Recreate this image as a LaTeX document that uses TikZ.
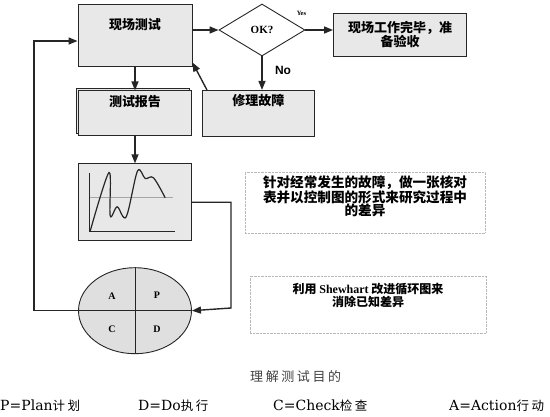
\documentclass[tikz,border=0pt]{standalone}
\usepackage{fontspec}
\setmainfont{Liberation Serif}
\newfontfamily\cjk{Noto Sans CJK SC}
\newfontfamily\cjkwide{Noto Sans CJK SC}[LetterSpace=20]
\newfontfamily\labelsans{Liberation Sans}
\newfontfamily\legendserif{DejaVu Serif}
\usepackage{tikz}
\usetikzlibrary{shapes.geometric, arrows.meta, positioning, shadows}

\newcommand{\hanzi}[1]{{\cjkwide\fontsize{12.5}{16}\selectfont #1}}

\begin{document}
\begin{tikzpicture}[
    x=1pt, y=-1pt,
    node distance=25pt,
    box/.style={draw=black!85, line width=0.9pt, rectangle, fill=gray!18, inner sep=0pt, align=center, font=\cjk\bfseries\fontsize{13}{14}\selectfont},
    note/.style={draw=gray!55, densely dotted, rectangle, inner sep=0pt, align=center, font=\cjk\bfseries\fontsize{13.6}{13.5}\selectfont},
    legend/.style={anchor=west, inner sep=0pt, font=\legendserif\fontsize{14}{16}\selectfont},
    letter/.style={inner sep=0pt, font=\bfseries\fontsize{10}{12}\selectfont},
    arrow/.style={line width=1.4pt, draw=black!85, -{Triangle[length=9pt,width=7pt]}}
]
\useasboundingbox (0,0) rectangle (550,417);

% top row
\node (test) [box, minimum width=114pt, text height=26pt, text depth=36pt] at (135,35) {现场测试};
\node (ok) [diamond, draw=black!85, line width=0.9pt, inner sep=0pt, minimum width=86pt, minimum height=52pt, font=\bfseries\fontsize{11}{13}\selectfont] at (262,30) {OK?};
\node (done) [box, minimum width=133pt, minimum height=43pt] at (400,34.5) {现场工作完毕，准\\备验收};
\node (yes) [inner sep=0pt, font=\bfseries\fontsize{6.5}{8}\selectfont] at ([shift={(-4,-17)}]ok.east) {Yes};
\node (no) [inner sep=0pt, font=\labelsans\bfseries\fontsize{12}{14}\selectfont] at ([shift={(21,14)}]ok.south) {No};

% left column
\node (report) [box, minimum width=113pt, text height=16pt, text depth=29pt, below=24pt of test,
    copy shadow={shadow xshift=-2.5pt, shadow yshift=2.5pt}] {测试报告};
\node (fix) [box, minimum width=112pt, text height=15pt, text depth=31pt, right=10pt of report] {修理故障};
\node (chart) [box, minimum width=113pt, minimum height=77pt, below=27pt of report] {};
\node (pdca) [ellipse, draw=black!85, line width=0.9pt, fill=gray!25, inner sep=0pt, minimum width=113pt, minimum height=86pt, below=26pt of chart] {};

% control chart
\begin{scope}[shift={(chart.center)}, line width=1.2pt, black!85]
  \draw (-45.5,-28.8) -- (-45.5,29.5) -- (40,29.5);
  \draw[gray!70, line width=0.8pt] (-45.5,-4.5) -- (38,-4.5);
  \draw plot[smooth, tension=0.55] coordinates {(-45,29.5) (-26,-29.8) (-24.8,13.5) (-17.8,4.5) (-8.8,14.5) (2.5,-31.2) (10.2,-23.8) (18.5,-24.5) (30.2,-4.5)};
\end{scope}

% PDCA wheel
\draw[line width=0.9pt, black!85] (pdca.north) -- (pdca.south);
\draw[line width=0.9pt, black!85] (pdca.west) -- (pdca.east);
\node (lblA) [letter] at ([shift={(-23,-15)}]pdca.center) {A};
\node (lblP) [letter] at ([shift={(22,-15)}]pdca.center) {P};
\node (lblC) [letter] at ([shift={(-23,19)}]pdca.center) {C};
\node (lblD) [letter] at ([shift={(22,19)}]pdca.center) {D};

% notes
\node (note1) [note, minimum width=240pt, minimum height=61pt] at (365,202.5)
    {针对经常发生的故障，做一张核对\\表并以控制图的形式来研究过程中\\的差异\\ \mbox{}};
\node (note2) [note, minimum width=236pt, minimum height=57pt, font=\cjk\bfseries\fontsize{12}{13}\selectfont] at (368,304.5)
    {利用 {\rmfamily Shewhart} 改进循环图来\\消除已知差异\\[7pt] \mbox{}};

% caption and legend
\node (caption) [anchor=west, inner sep=0pt, text=black!75, font=\cjkwide\fontsize{13}{15}\selectfont] at (250,377) {理解测试目的};
\node (legP) [legend] at (0,406) {P=Plan\hanzi{计划}};
\node (legD) [legend] at (138,406) {D=Do\hanzi{执行}};
\node (legC) [legend] at (273,406) {C=Check\hanzi{检查}};
\node (legA) [legend] at (449,406) {A=Action\hanzi{行动}};

% connectors
\coordinate (backR) at (231,308);
\coordinate (backL) at (34,41);
\draw [arrow] (test.east |- ok.west) -- (ok.west);
\draw [arrow] (ok.east) -- (ok.east -| done.west);
\draw [arrow] (ok.south) -- (ok.south |- fix.north);
\draw [arrow] (test.south) -- (report.north);
\draw [arrow] ([xshift=5pt]fix.north west) -- ([yshift=4pt]test.south east);
\draw [arrow] (report.south) -- (chart.north);
\draw [arrow] (chart.east) -| (backR) -- (pdca.east);
\draw [arrow] (pdca.west) -| (backL) -- (backL -| test.west);
\end{tikzpicture}
\end{document}
